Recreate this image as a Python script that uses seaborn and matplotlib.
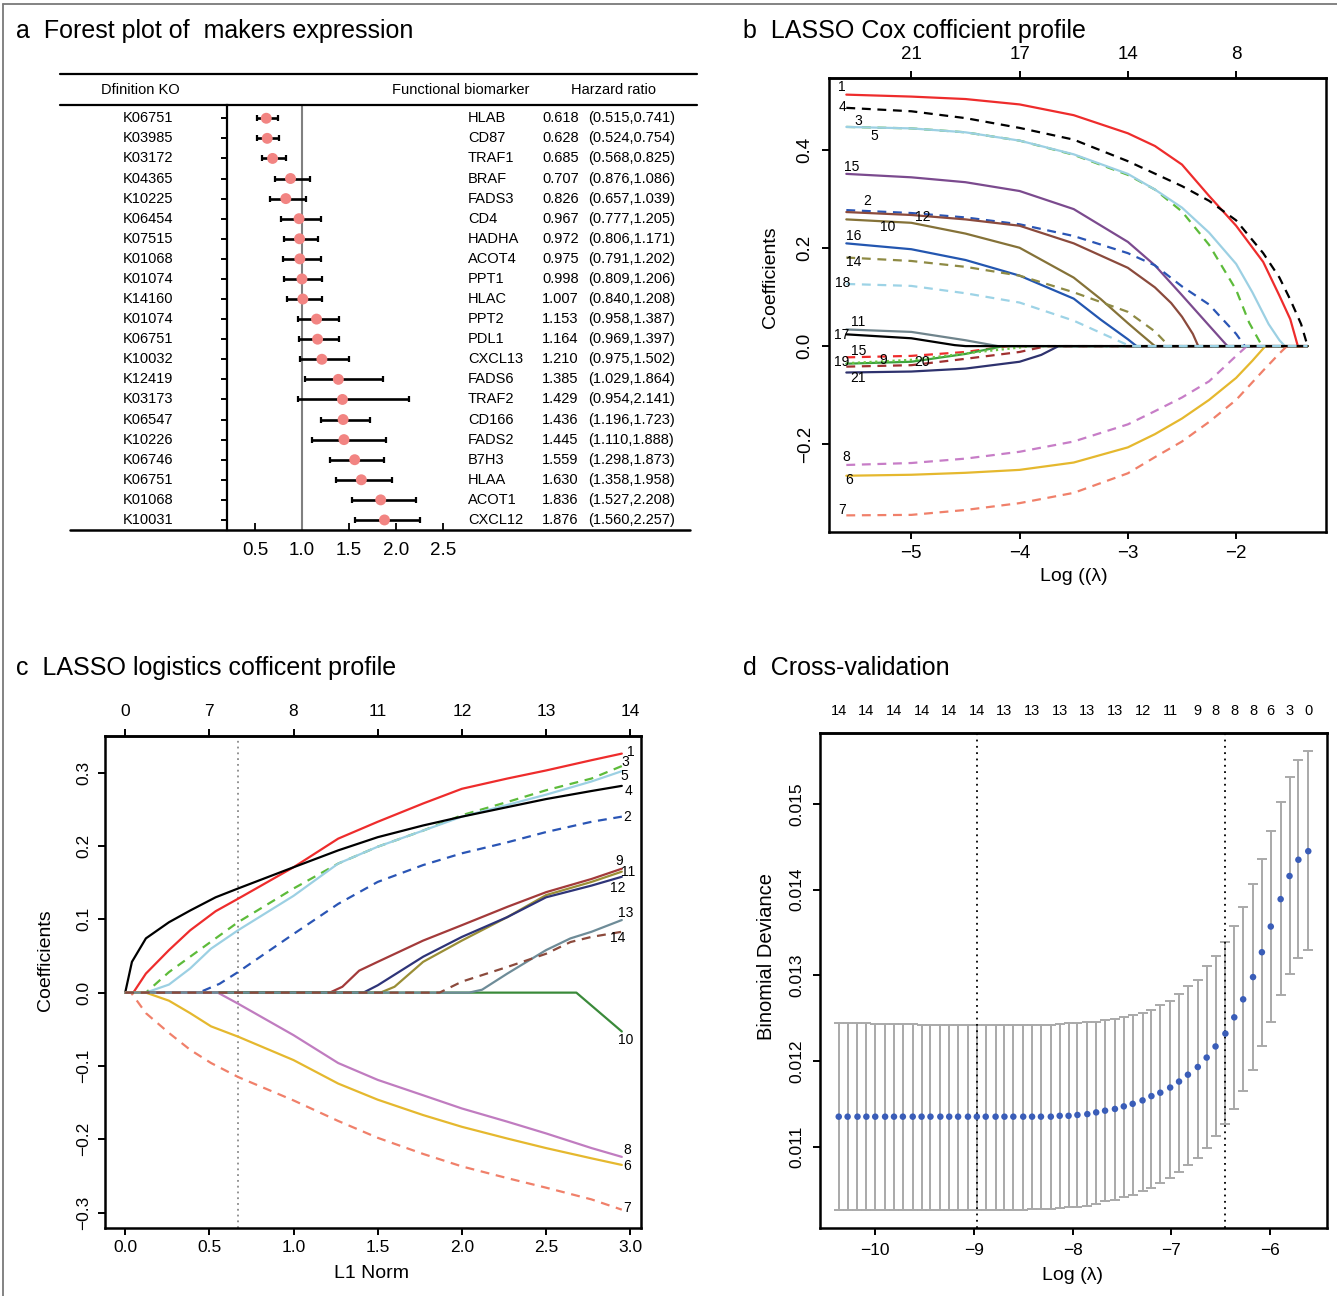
import matplotlib
matplotlib.use("Agg")
import matplotlib.pyplot as plt
import matplotlib.transforms as mtransforms
from matplotlib.lines import Line2D
import seaborn as sns
import numpy as np

# ---------------- panel a: forest plot ----------------
ko_ids = ["K06751", "K03985", "K03172", "K04365", "K10225", "K06454", "K07515",
          "K01068", "K01074", "K14160", "K01074", "K06751", "K10032", "K12419",
          "K03173", "K06547", "K10226", "K06746", "K06751", "K01068", "K10031"]
biomarkers = ["HLAB", "CD87", "TRAF1", "BRAF", "FADS3", "CD4", "HADHA", "ACOT4",
              "PPT1", "HLAC", "PPT2", "PDL1", "CXCL13", "FADS6", "TRAF2", "CD166",
              "FADS2", "B7H3", "HLAA", "ACOT1", "CXCL12"]
hr_text = ["0.618", "0.628", "0.685", "0.707", "0.826", "0.967", "0.972", "0.975",
           "0.998", "1.007", "1.153", "1.164", "1.210", "1.385", "1.429", "1.436",
           "1.445", "1.559", "1.630", "1.836", "1.876"]
ci_text = ["(0.515,0.741)", "(0.524,0.754)", "(0.568,0.825)", "(0.876,1.086)",
           "(0.657,1.039)", "(0.777,1.205)", "(0.806,1.171)", "(0.791,1.202)",
           "(0.809,1.206)", "(0.840,1.208)", "(0.958,1.387)", "(0.969,1.397)",
           "(0.975,1.502)", "(1.029,1.864)", "(0.954,2.141)", "(1.196,1.723)",
           "(1.110,1.888)", "(1.298,1.873)", "(1.358,1.958)", "(1.527,2.208)",
           "(1.560,2.257)"]
# plotted point / interval (as drawn in the figure)
hr_point = [0.618, 0.628, 0.685, 0.876, 0.826, 0.967, 0.972, 0.975, 0.998, 1.007, 1.153,
            1.164, 1.210, 1.385, 1.429, 1.436, 1.445, 1.559, 1.630, 1.836, 1.876]
hr_low = [0.515, 0.524, 0.568, 0.707, 0.657, 0.777, 0.806, 0.791, 0.809, 0.840, 0.958,
          0.969, 0.975, 1.029, 0.954, 1.196, 1.110, 1.298, 1.358, 1.527, 1.560]
hr_high = [0.741, 0.754, 0.825, 1.086, 1.039, 1.205, 1.171, 1.202, 1.206, 1.208, 1.387,
           1.397, 1.502, 1.864, 2.141, 1.723, 1.888, 1.873, 1.958, 2.208, 2.257]

# ---------------- panel b: LASSO Cox coefficient paths ----------------
cox_path_end = -1.34
cox_top_ticks = [-5, -4, -3, -2]
cox_top_df = ["21", "17", "14", "8"]
cox_loglam = {
    "1": [-5.6, -5.0, -4.5, -4.0, -3.5, -3.0, -2.75, -2.5, -2.25, -2.0, -1.75, -1.6, -1.5, -1.43],
    "4": [-5.6, -5.0, -4.5, -4.0, -3.5, -3.0, -2.5, -2.25, -2.0, -1.75, -1.6, -1.5, -1.4, -1.34],
    "3": [-5.6, -5.0, -4.5, -4.0, -3.5, -3.0, -2.75, -2.5, -2.25, -2.0, -1.88, -1.76],
    "5": [-5.6, -5.0, -4.5, -4.0, -3.5, -3.0, -2.75, -2.5, -2.25, -2.0, -1.85, -1.7, -1.6, -1.55],
    "15a": [-5.6, -5.0, -4.5, -4.0, -3.5, -3.0, -2.75, -2.5, -2.25, -2.08],
    "2": [-5.6, -5.0, -4.5, -4.0, -3.5, -3.0, -2.75, -2.5, -2.25, -2.0, -1.92],
    "12": [-5.6, -5.0, -4.5, -4.0, -3.5, -3.0, -2.75, -2.6, -2.5, -2.4, -2.35],
    "10": [-5.6, -5.0, -4.5, -4.0, -3.5, -3.25, -3.0, -2.9, -2.75],
    "16": [-5.6, -5.0, -4.5, -4.0, -3.5, -3.25, -3.0, -2.92],
    "14": [-5.6, -5.0, -4.5, -4.0, -3.5, -3.0, -2.75, -2.62],
    "11": [-5.6, -5.0, -4.5, -4.2],
    "15b": [-5.6, -5.0, -4.5, -4.1],
    "19": [-5.6, -5.0, -4.5, -4.15],
    "9": [-5.6, -5.0, -4.5, -4.0, -3.9],
    "20": [-5.6, -5.0, -4.5, -4.0, -3.75],
    "21": [-5.6, -5.0, -4.5, -4.0, -3.8, -3.64],
    "8": [-5.6, -5.0, -4.5, -4.0, -3.5, -3.0, -2.75, -2.5, -2.25, -2.0, -1.9],
    "6": [-5.6, -5.0, -4.5, -4.0, -3.5, -3.0, -2.75, -2.5, -2.25, -2.0, -1.85, -1.73],
    "7": [-5.6, -5.0, -4.5, -4.0, -3.5, -3.0, -2.75, -2.5, -2.25, -2.0, -1.75, -1.6, -1.53],
    "17": [-5.6, -5.0, -4.6, -4.5],
    "18": [-5.6, -5.0, -4.5, -4.0, -3.5, -3.25, -3.0, -2.98],
}
cox_coef = {
    "1": [0.514, 0.510, 0.505, 0.494, 0.472, 0.435, 0.409, 0.371, 0.307, 0.246, 0.172, 0.103, 0.055, 0.0],
    "4": [0.487, 0.480, 0.466, 0.446, 0.422, 0.378, 0.327, 0.297, 0.257, 0.190, 0.140, 0.095, 0.045, 0.0],
    "3": [0.448, 0.445, 0.437, 0.420, 0.391, 0.350, 0.320, 0.275, 0.207, 0.115, 0.048, 0.0],
    "5": [0.448, 0.445, 0.437, 0.420, 0.392, 0.352, 0.320, 0.283, 0.232, 0.168, 0.110, 0.045, 0.012, 0.0],
    "15a": [0.352, 0.345, 0.335, 0.317, 0.280, 0.213, 0.165, 0.104, 0.042, 0.0],
    "2": [0.278, 0.272, 0.263, 0.249, 0.225, 0.190, 0.165, 0.122, 0.085, 0.025, 0.0],
    "12": [0.274, 0.268, 0.259, 0.246, 0.210, 0.160, 0.120, 0.088, 0.060, 0.025, 0.0],
    "10": [0.259, 0.252, 0.230, 0.201, 0.140, 0.096, 0.047, 0.028, 0.0],
    "16": [0.210, 0.198, 0.176, 0.144, 0.097, 0.054, 0.014, 0.0],
    "14": [0.181, 0.174, 0.162, 0.144, 0.110, 0.070, 0.030, 0.0],
    "11": [0.034, 0.029, 0.012, 0.0],
    "15b": [-0.023, -0.020, -0.012, 0.0],
    "19": [-0.036, -0.032, -0.016, 0.0],
    "9": [-0.035, -0.028, -0.015, -0.003, 0.0],
    "20": [-0.042, -0.039, -0.026, -0.012, 0.0],
    "21": [-0.054, -0.052, -0.046, -0.032, -0.018, 0.0],
    "8": [-0.243, -0.239, -0.230, -0.216, -0.195, -0.160, -0.133, -0.105, -0.072, -0.020, 0.0],
    "6": [-0.265, -0.263, -0.259, -0.253, -0.238, -0.207, -0.180, -0.148, -0.110, -0.065, -0.030, 0.0],
    "7": [-0.346, -0.345, -0.335, -0.321, -0.300, -0.260, -0.227, -0.195, -0.155, -0.110, -0.050, -0.015, 0.0],
    "17": [0.024, 0.016, 0.002, 0.0],
    "18": [0.127, 0.123, 0.108, 0.089, 0.052, 0.027, 0.002, 0.0],
}
cox_labels = {"1": "1", "4": "4", "3": "3", "5": "5", "15a": "15", "2": "2", "12": "12",
              "10": "10", "16": "16", "14": "14", "11": "11", "15b": "15", "19": "19",
              "9": "9", "20": "20", "21": "21", "8": "8", "6": "6", "7": "7", "17": "17",
              "18": "18"}

# ---------------- panel c: LASSO logistic coefficient paths ----------------
l1_top_ticks = [0.0, 0.5, 1.0, 1.5, 2.0, 2.5, 3.0]
l1_top_df = ["0", "7", "8", "11", "12", "13", "14"]
l1_cut = 0.67
lasso_l1 = {
    "1": [0, 0.048, 0.123, 0.26, 0.386, 0.537, 0.67, 1.0, 1.265, 1.5, 1.77, 2.0, 2.27, 2.5, 2.77, 2.95],
    "3": [0, 0.123, 0.26, 0.41, 0.67, 1.0, 1.265, 1.5, 1.77, 2.0, 2.27, 2.5, 2.77, 2.95],
    "5": [0, 0.123, 0.26, 0.386, 0.51, 0.67, 1.0, 1.265, 1.5, 1.77, 2.0, 2.27, 2.5, 2.77, 2.95],
    "4": [0, 0.04, 0.123, 0.26, 0.386, 0.537, 0.67, 1.0, 1.265, 1.5, 1.77, 2.0, 2.27, 2.5, 2.77, 2.95],
    "2": [0, 0.437, 0.56, 0.67, 1.0, 1.265, 1.5, 1.77, 2.0, 2.27, 2.5, 2.77, 2.95],
    "9": [0, 1.215, 1.29, 1.39, 1.5, 1.77, 2.0, 2.27, 2.5, 2.77, 2.95],
    "11": [0, 1.516, 1.6, 1.77, 2.0, 2.27, 2.5, 2.77, 2.95],
    "12": [0, 1.415, 1.5, 1.77, 2.0, 2.27, 2.5, 2.77, 2.95],
    "10": [0, 2.68, 2.95],
    "8": [0, 0.55, 0.67, 1.0, 1.265, 1.5, 1.77, 2.0, 2.27, 2.5, 2.77, 2.95],
    "6": [0, 0.123, 0.26, 0.386, 0.51, 0.67, 1.0, 1.265, 1.5, 1.77, 2.0, 2.27, 2.5, 2.77, 2.95],
    "7": [0, 0.035, 0.123, 0.26, 0.386, 0.51, 0.67, 1.0, 1.265, 1.5, 1.77, 2.0, 2.27, 2.5, 2.77, 2.95],
    "13": [0, 2.043, 2.12, 2.27, 2.5, 2.645, 2.77, 2.95],
    "14": [0, 1.867, 2.0, 2.27, 2.5, 2.645, 2.77, 2.95],
}
lasso_coef = {
    "1": [0, 0, 0.026, 0.058, 0.085, 0.111, 0.128, 0.171, 0.210, 0.233, 0.258, 0.278, 0.292, 0.303, 0.317, 0.326],
    "3": [0, 0, 0.028, 0.053, 0.096, 0.142, 0.176, 0.199, 0.221, 0.242, 0.260, 0.276, 0.292, 0.309],
    "5": [0, 0, 0.011, 0.033, 0.060, 0.085, 0.132, 0.176, 0.199, 0.221, 0.240, 0.256, 0.270, 0.288, 0.302],
    "4": [0, 0.042, 0.074, 0.096, 0.112, 0.130, 0.142, 0.171, 0.194, 0.212, 0.228, 0.240, 0.253, 0.264, 0.275, 0.282],
    "2": [0, 0, 0.012, 0.028, 0.080, 0.121, 0.151, 0.174, 0.190, 0.205, 0.219, 0.233, 0.240],
    "9": [0, 0, 0.008, 0.030, 0.042, 0.071, 0.092, 0.117, 0.137, 0.155, 0.169],
    "11": [0, 0, 0.008, 0.042, 0.071, 0.103, 0.133, 0.151, 0.165],
    "12": [0, 0, 0.010, 0.049, 0.076, 0.103, 0.130, 0.146, 0.158],
    "10": [0, 0, -0.053],
    "8": [0, 0, -0.015, -0.058, -0.096, -0.119, -0.140, -0.158, -0.176, -0.192, -0.212, -0.224],
    "6": [0, 0, -0.011, -0.028, -0.046, -0.060, -0.092, -0.124, -0.146, -0.167, -0.183, -0.199, -0.212, -0.226, -0.235],
    "7": [0, 0, -0.028, -0.055, -0.078, -0.096, -0.115, -0.147, -0.175, -0.198, -0.220, -0.237, -0.253, -0.266, -0.282, -0.296],
    "13": [0, 0, 0.004, 0.026, 0.058, 0.074, 0.083, 0.099],
    "14": [0, 0, 0.015, 0.035, 0.053, 0.069, 0.076, 0.083],
}

# ---------------- panel d: cross-validation ----------------
cv_loglam = [-10.37, -10.28, -10.18, -10.09, -10.00, -9.90, -9.81, -9.72, -9.62, -9.53,
             -9.44, -9.34, -9.25, -9.16, -9.06, -8.97, -8.88, -8.78, -8.69, -8.60,
             -8.50, -8.41, -8.32, -8.22, -8.13, -8.04, -7.95, -7.85, -7.76, -7.67,
             -7.57, -7.48, -7.39, -7.29, -7.20, -7.11, -7.01, -6.92, -6.83, -6.73,
             -6.64, -6.55, -6.45, -6.36, -6.27, -6.17, -6.08, -5.99, -5.89, -5.80,
             -5.71, -5.61]
cv_mean = [0.01135, 0.01135, 0.01135, 0.01135, 0.01135, 0.01135, 0.01135, 0.01135, 0.01135, 0.01135,
           0.01135, 0.01135, 0.01135, 0.01135, 0.01135, 0.01135, 0.01135, 0.01135, 0.01135, 0.01135,
           0.01135, 0.01135, 0.01135, 0.01135, 0.01136, 0.01136, 0.01137, 0.01138, 0.01140, 0.01142,
           0.01144, 0.01147, 0.01150, 0.01154, 0.01159, 0.01163, 0.01169, 0.01176, 0.01184, 0.01193,
           0.01204, 0.01217, 0.01232, 0.01251, 0.01272, 0.01298, 0.01327, 0.01357, 0.01389, 0.01416,
           0.01435, 0.01445]
cv_upper = [0.01244, 0.01244, 0.01244, 0.01244, 0.01243, 0.01243, 0.01243, 0.01243, 0.01243, 0.01242,
            0.01242, 0.01242, 0.01242, 0.01242, 0.01242, 0.01242, 0.01242, 0.01242, 0.01242, 0.01242,
            0.01242, 0.01242, 0.01242, 0.01242, 0.01243, 0.01244, 0.01244, 0.01245, 0.01246, 0.01248,
            0.01249, 0.01251, 0.01254, 0.01256, 0.01260, 0.01265, 0.01270, 0.01278, 0.01287, 0.01295,
            0.01311, 0.01323, 0.01339, 0.01358, 0.01380, 0.01407, 0.01436, 0.01469, 0.01502, 0.01532,
            0.01551, 0.01562]
cv_lower = [0.01026, 0.01026, 0.01026, 0.01026, 0.01026, 0.01026, 0.01026, 0.01026, 0.01026, 0.01026,
            0.01026, 0.01026, 0.01026, 0.01026, 0.01026, 0.01026, 0.01026, 0.01026, 0.01026, 0.01026,
            0.01026, 0.01027, 0.01027, 0.01027, 0.01028, 0.01029, 0.01030, 0.01031, 0.01033, 0.01036,
            0.01038, 0.01041, 0.01044, 0.01048, 0.01052, 0.01057, 0.01063, 0.01070, 0.01078, 0.01087,
            0.01098, 0.01112, 0.01126, 0.01144, 0.01165, 0.01190, 0.01217, 0.01246, 0.01277, 0.01302,
            0.01320, 0.01330]
cv_top_idx = [0, 3, 6, 9, 12, 15, 18, 21, 24, 27, 30, 33, 36, 39, 41, 43, 45, 47, 49, 51]
cv_top_df = ["14", "14", "14", "14", "14", "14", "13", "13", "13", "13", "13", "12", "11",
             "9", "8", "8", "8", "6", "3", "0"]
cv_min_idx = 15
cv_1se_idx = 42

# ---------------- figure setup ----------------
sns.set_theme(style="ticks")
plt.rcParams["font.family"] = ["Liberation Sans", "DejaVu Sans"]
plt.rcParams.update({"axes.edgecolor": "black", "xtick.color": "black", "ytick.color": "black",
                     "text.color": "black", "axes.labelcolor": "black"})

W, H = 1337, 1296
fig = plt.figure(figsize=(W / 100, H / 100), dpi=100)


def fx(x):
    return x / W


def fy(y):
    return 1 - y / H


def px_rect(left, top, right, bottom):
    return [left / W, 1 - bottom / H, (right - left) / W, (bottom - top) / H]


def hline(x0, x1, y, lw=1.5, color="black"):
    fig.add_artist(Line2D([fx(x0), fx(x1)], [fy(y), fy(y)], color=color, lw=lw))


def style_box(ax, labelsize=13, pad=4):
    for s in ax.spines.values():
        s.set_visible(True)
        s.set_linewidth(1.8)
        s.set_color("black")
    ax.tick_params(direction="out", length=5, width=1.4, labelsize=labelsize, pad=pad)
    ax.tick_params(axis="y", labelrotation=90)
    for t in ax.get_yticklabels():
        t.set_verticalalignment("center")
    ax.grid(False)


# figure frame (left and top edges)
fig.add_artist(Line2D([fx(3), fx(3)], [fy(4), fy(1296)], color="#7a7a7a", lw=1.3))
hline(3, 1337, 4, lw=1.3, color="#7a7a7a")

# panel titles
title_kw = dict(fontsize=18, va="center", ha="left")
fig.text(fx(16), fy(31), "a  Forest plot of  makers expression", **title_kw)
fig.text(fx(743), fy(31), "b  LASSO Cox cofficient profile", **title_kw)
fig.text(fx(16), fy(668), "c  LASSO logistics cofficent profile", **title_kw)
fig.text(fx(743), fy(668), "d  Cross-validation", **title_kw)

# ---------------- panel a ----------------
axf = fig.add_axes(px_rect(227, 105, 460, 530))
rows = np.arange(len(ko_ids))
pt = np.array(hr_point)
lo = np.array(hr_low)
hi = np.array(hr_high)
axf.axvline(1.0, color="#808080", lw=1.5, zorder=1)
axf.errorbar(pt, rows, xerr=[pt - lo, hi - pt], fmt="none", ecolor="black",
             elinewidth=1.9, capsize=2.4, capthick=1.6, zorder=2)
sns.scatterplot(x=pt, y=rows, color="#F28482", s=62, edgecolor="none", zorder=3, ax=axf)
axf.set_xlim(0.2, 2.68)
axf.set_ylim(20.5, -0.66)
for side in ["top", "right", "bottom"]:
    axf.spines[side].set_visible(False)
axf.spines["left"].set_linewidth(1.6)
axf.spines["left"].set_color("black")
axf.set_yticks(rows)
axf.set_yticklabels([])
axf.tick_params(axis="y", direction="out", length=4, width=1.4)
axf.set_xticks([0.5, 1.0, 1.5, 2.0, 2.5])
axf.set_xticklabels(["0.5", "1.0", "1.5", "2.0", "2.5"])
axf.tick_params(axis="x", direction="in", length=5, width=1.3, labelsize=13.5, pad=9)
axf.set_xlabel("")
axf.set_ylabel("")
axf.grid(False)

trans_a = mtransforms.blended_transform_factory(fig.transFigure, axf.transData)
for i in rows:
    axf.text(fx(148), i, ko_ids[i], transform=trans_a, ha="center", va="center",
             fontsize=10.5, clip_on=False)
    axf.text(fx(468), i, biomarkers[i], transform=trans_a, ha="left", va="center",
             fontsize=10.5, clip_on=False)
    axf.text(fx(542), i, hr_text[i], transform=trans_a, ha="left", va="center",
             fontsize=10.5, clip_on=False)
    axf.text(fx(588), i, ci_text[i], transform=trans_a, ha="left", va="center",
             fontsize=10.5, clip_on=False)

fig.text(fx(140), fy(90), "Dfinition KO", ha="center", va="center", fontsize=10.5)
fig.text(fx(392), fy(90), "Functional biomarker", ha="left", va="center", fontsize=10.5)
fig.text(fx(571), fy(90), "Harzard ratio", ha="left", va="center", fontsize=10.5)
hline(60, 697, 74, lw=1.6)
hline(60, 697, 105, lw=1.6)
hline(70, 690, 530, lw=1.8)

# ---------------- panel b ----------------
dash = (0, (4, 3))
dot = (0, (1, 1.6))
cox_style = {
    "1": ("#EE2C2C", "-"), "4": ("black", dash), "3": ("#5DBB3A", dash),
    "5": ("#9CD0E3", "-"), "15a": ("#7B4A8E", "-"), "2": ("#2A55B5", dash),
    "12": ("#8B4A3C", "-"), "10": ("#857238", "-"), "16": ("#2356B0", "-"),
    "14": ("#8E8A44", dash), "11": ("#6F848C", "-"), "15b": ("#EE2C2C", dash),
    "19": ("#3DA23D", "-"), "9": ("#6CC644", dot), "20": ("#A03030", dash),
    "21": ("#2E326E", "-"), "8": ("#C77DC7", dash), "6": ("#E5B82E", "-"),
    "7": ("#F0806A", dash), "17": ("black", "-"), "18": ("#9DD3E6", dash),
}
cox_label_pos = {
    "1": (-5.638, 0.529), "4": (-5.638, 0.488), "3": (-5.49, 0.461), "5": (-5.343, 0.429),
    "15a": (-5.553, 0.367), "2": (-5.41, 0.296), "12": (-4.894, 0.264), "10": (-5.217, 0.243),
    "16": (-5.535, 0.225), "14": (-5.535, 0.171), "18": (-5.638, 0.129), "11": (-5.488, 0.049),
    "17": (-5.645, 0.022), "15b": (-5.488, -0.01), "19": (-5.645, -0.033), "9": (-5.258, -0.028),
    "20": (-4.901, -0.033), "21": (-5.488, -0.065), "8": (-5.6, -0.227), "6": (-5.575, -0.273),
    "7": (-5.638, -0.335),
}
axb = fig.add_axes(px_rect(829, 78, 1326, 532))
for key in cox_loglam:
    color, ls = cox_style[key]
    xs = cox_loglam[key] + [cox_path_end]
    ys = cox_coef[key] + [0.0]
    sns.lineplot(x=xs, y=ys, color=color, linestyle=ls, linewidth=1.6,
                 estimator=None, sort=False, ax=axb)
    lx, ly = cox_label_pos[key]
    axb.text(lx, ly, cox_labels[key], ha="center", va="center", fontsize=10)
axb.set_xlim(-5.76, -1.17)
axb.set_ylim(-0.38, 0.548)
axb.set_xticks([-5, -4, -3, -2])
axb.set_yticks([-0.2, 0.0, 0.2, 0.4])
axb.set_yticklabels(["\u22120.2", "0.0", "0.2", "0.4"])
style_box(axb, labelsize=13.5, pad=4)
axb.tick_params(axis="y", pad=6)
secb = axb.secondary_xaxis("top")
secb.set_xticks(cox_top_ticks)
secb.set_xticklabels(cox_top_df)
secb.tick_params(direction="out", length=5, width=1.4, labelsize=13.5, pad=6)
secb.spines["top"].set_linewidth(1.8)
fig.text(fx(770), fy(277), "Coefficients", rotation=90, ha="center", va="center", fontsize=14)
fig.text(fx(1074), fy(577), "Log ((\u03bb)", ha="center", va="center", fontsize=14)

# ---------------- panel c ----------------
lasso_style = {
    "1": ("#EE2C2C", "-"), "3": ("#5DBB3A", dash), "5": ("#9CD0E3", "-"),
    "4": ("black", "-"), "2": ("#2A55B5", dash), "9": ("#A33A3A", "-"),
    "11": ("#9A8E36", "-"), "12": ("#2E3478", "-"), "10": ("#3A8A3A", "-"),
    "8": ("#C07CC0", "-"), "6": ("#E5B82E", "-"), "7": ("#F0806A", dash),
    "13": ("#6E8C98", "-"), "14": ("#8B4A3C", dash),
}
lasso_label_pos = {
    "1": (3.004, 0.328), "3": (2.971, 0.315), "5": (2.964, 0.295), "4": (2.989, 0.275),
    "2": (2.984, 0.240), "9": (2.933, 0.180), "11": (2.989, 0.165), "12": (2.926, 0.143),
    "13": (2.976, 0.109), "14": (2.926, 0.074), "10": (2.971, -0.065), "8": (2.984, -0.214),
    "6": (2.984, -0.237), "7": (2.984, -0.294),
}
axc = fig.add_axes(px_rect(105, 736, 641, 1228))
axc.axvline(l1_cut, color="#8a8a8a", linestyle=(0, (1, 2.2)), linewidth=1.3, zorder=0)
for key in lasso_l1:
    color, ls = lasso_style[key]
    sns.lineplot(x=lasso_l1[key], y=lasso_coef[key], color=color, linestyle=ls,
                 linewidth=1.6, estimator=None, sort=False, ax=axc)
    lx, ly = lasso_label_pos[key]
    axc.text(lx, ly, key, ha="center", va="center", fontsize=10)
axc.set_xlim(-0.12, 3.064)
axc.set_ylim(-0.321, 0.35)
axc.set_xticks([0.0, 0.5, 1.0, 1.5, 2.0, 2.5, 3.0])
axc.set_xticklabels(["0.0", "0.5", "1.0", "1.5", "2.0", "2.5", "3.0"])
axc.set_yticks([-0.3, -0.2, -0.1, 0.0, 0.1, 0.2, 0.3])
axc.set_yticklabels(["\u22120.3", "\u22120.2", "\u22120.1", "0.0", "0.1", "0.2", "0.3"])
style_box(axc, labelsize=12.5, pad=4)
axc.tick_params(axis="y", pad=5)
secc = axc.secondary_xaxis("top")
secc.set_xticks(l1_top_ticks)
secc.set_xticklabels(l1_top_df)
secc.tick_params(direction="out", length=5, width=1.4, labelsize=12.5, pad=7)
secc.spines["top"].set_linewidth(1.8)
fig.text(fx(46), fy(960), "Coefficients", rotation=90, ha="center", va="center", fontsize=14)
fig.text(fx(372), fy(1273), "L1 Norm", ha="center", va="center", fontsize=14)

# ---------------- panel d ----------------
axd = fig.add_axes(px_rect(820, 733, 1327, 1228))
cm = np.array(cv_mean)
cu = np.array(cv_upper)
cl = np.array(cv_lower)
axd.errorbar(cv_loglam, cm, yerr=[cm - cl, cu - cm], fmt="none", ecolor="#A9A9A9",
             elinewidth=1.4, capsize=3.6, capthick=1.4, zorder=1)
sns.scatterplot(x=cv_loglam, y=cv_mean, color="#3A5DB8", s=22, edgecolor="none",
                zorder=3, ax=axd)
for idx in [cv_min_idx, cv_1se_idx]:
    axd.axvline(cv_loglam[idx], color="black", linestyle=(0, (1, 2.5)), linewidth=1.3, zorder=2)
axd.set_xlim(-10.56, -5.42)
axd.set_ylim(0.01005, 0.01583)
axd.set_xticks([-10, -9, -8, -7, -6])
axd.set_xticklabels(["\u221210", "\u22129", "\u22128", "\u22127", "\u22126"])
axd.set_yticks([0.011, 0.012, 0.013, 0.014, 0.015])
axd.set_yticklabels(["0.011", "0.012", "0.013", "0.014", "0.015"])
style_box(axd, labelsize=12.5, pad=6)
secd = axd.secondary_xaxis("top")
secd.set_xticks([cv_loglam[i] for i in cv_top_idx])
secd.set_xticklabels(cv_top_df)
secd.tick_params(length=0, labelsize=10.5, pad=11)
secd.spines["top"].set_linewidth(1.8)
fig.text(fx(766), fy(956), "Binomial Deviance", rotation=90, ha="center", va="center", fontsize=14.5)
fig.text(fx(1073), fy(1275), "Log (\u03bb)", ha="center", va="center", fontsize=14)

fig.savefig("out.png", dpi=100)
